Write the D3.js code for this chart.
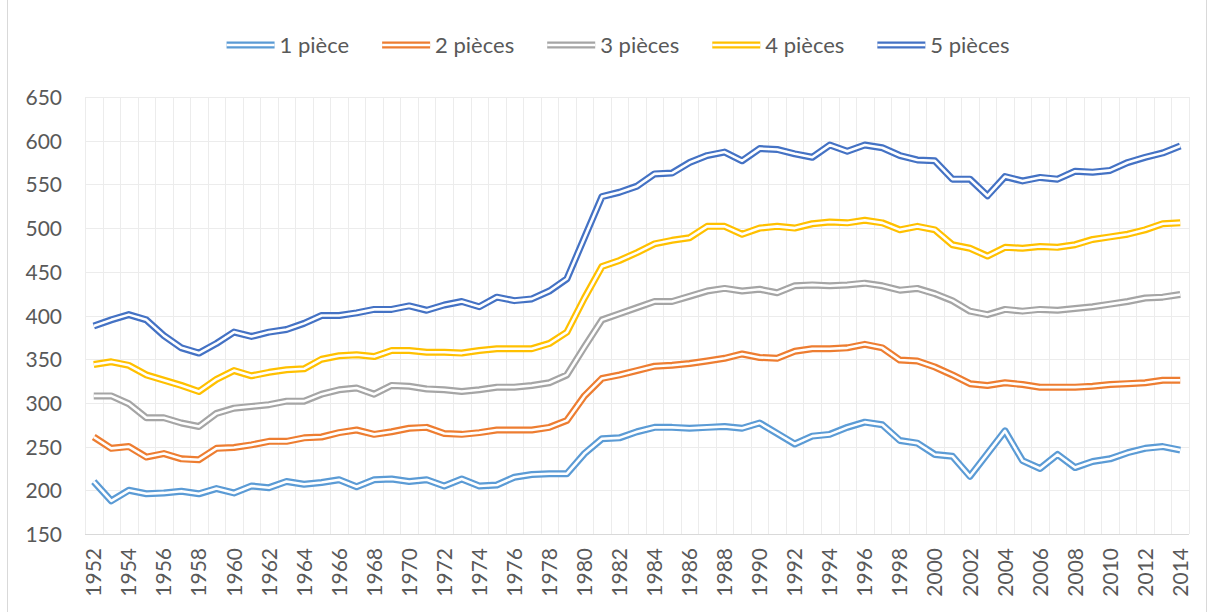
<!DOCTYPE html>
<html>
<head>
<meta charset="utf-8">
<script src="https://cdn.jsdelivr.net/npm/d3@7"></script>
<style>
  html, body { margin: 0; padding: 0; background: #fff; }
  svg { display: block; }
  text { font-family: Lato, "Open Sans", sans-serif; fill: #595959; }
</style>
</head>
<body>
<svg id="chart" width="1214" height="612"></svg>
<script>
// Years on the category axis
const years = d3.range(1952, 2015);
const yTicks = [150, 200, 250, 300, 350, 400, 450, 500, 550, 600, 650];

// Series names and colours
const seriesNames = ["1 pièce", "2 pièces", "3 pièces", "4 pièces", "5 pièces"];
const seriesColors = ["#5B9BD5", "#ED7D31", "#A5A5A5", "#FFC000", "#4472C4"];

// Values per year, 1952–2014
const piece1 = [210, 188, 200, 196, 197, 199, 196, 202, 197, 205,
                203, 210, 207, 209, 212, 204, 212, 213, 210, 212,
                205, 213, 205, 206, 215, 218, 219, 219, 242, 259,
                260, 267, 272, 272, 271, 272, 273, 271, 277, 265,
                253, 262, 264, 272, 278, 275, 257, 254, 241, 239,
                216, 242, 268, 234, 225, 241, 226, 233, 236, 243,
                248, 250, 246];
const pieces2 = [261, 248, 250, 238, 242, 236, 235, 248, 249, 252,
                 256, 256, 260, 261, 266, 269, 264, 267, 271, 272,
                 265, 264, 266, 269, 269, 269, 272, 280, 308, 328,
                 332, 337, 342, 343, 345, 348, 351, 356, 352, 351,
                 359, 362, 362, 363, 367, 363, 349, 348, 341, 332,
                 322, 320, 323, 321, 318, 318, 318, 319, 321, 322,
                 323, 326, 326];
const pieces3 = [308, 308, 299, 283, 283, 277, 273, 288, 294, 296,
                 298, 302, 302, 310, 315, 317, 310, 320, 319, 316,
                 315, 313, 315, 318, 318, 320, 323, 332, 364, 395,
                 402, 409, 416, 416, 422, 428, 431, 428, 430, 426,
                 434, 435, 434, 435, 437, 434, 429, 431, 425, 417,
                 405, 401, 407, 405, 407, 406, 408, 410, 413, 416,
                 420, 421, 424];
const pieces4 = [344, 347, 343, 332, 326, 320, 313, 327, 337, 331,
                 335, 338, 339, 350, 354, 355, 353, 360, 360, 358,
                 358, 357, 360, 362, 362, 362, 368, 381, 420, 456,
                 463, 472, 482, 486, 489, 502, 502, 493, 500, 502,
                 500, 505, 507, 506, 509, 506, 498, 502, 498, 481,
                 477, 468, 478, 477, 479, 478, 481, 487, 490, 493,
                 498, 505, 506];
const pieces5 = [388, 395, 401, 395, 377, 363, 357, 368, 381, 376,
                 381, 384, 391, 400, 400, 403, 407, 407, 411, 406,
                 412, 416, 410, 421, 417, 419, 428, 442, 489, 536,
                 541, 548, 562, 563, 575, 583, 587, 577, 591, 590,
                 585, 581, 595, 588, 595, 592, 583, 578, 577, 556,
                 556, 537, 559, 554, 558, 556, 565, 564, 566, 575,
                 581, 586, 594];

const seriesValues = [piece1, pieces2, pieces3, pieces4, pieces5];

const svg = d3.select("#chart");
const plot = { left: 85, right: 1189, top: 97, bottom: 534 };

// Outer chart frame
svg.append("rect")
  .attr("x", 7.5).attr("y", -10)
  .attr("width", 1199).attr("height", 640)
  .attr("fill", "#fff").attr("stroke", "#d9d9d9").attr("stroke-width", 1);

const x = d3.scaleBand().domain(years).range([plot.left, plot.right]).padding(0);
const y = d3.scaleLinear().domain([150, 650]).range([plot.bottom, plot.top]);
const cx = yr => x(yr) + x.bandwidth() / 2;

// Vertical gridlines at category boundaries
const vBounds = years.map(yr => x(yr)).concat([plot.right]);
svg.append("g").selectAll("line").data(vBounds).join("line")
  .attr("x1", d => Math.round(d) + 0.5).attr("x2", d => Math.round(d) + 0.5)
  .attr("y1", plot.top).attr("y2", plot.bottom)
  .attr("stroke", "#ececec").attr("stroke-width", 1);

// Horizontal gridlines
svg.append("g").selectAll("line").data(yTicks.filter(t => t > 150)).join("line")
  .attr("x1", plot.left).attr("x2", plot.right)
  .attr("y1", d => Math.round(y(d)) + 0.5).attr("y2", d => Math.round(y(d)) + 0.5)
  .attr("stroke", "#ececec").attr("stroke-width", 1);

// Category axis line
svg.append("line")
  .attr("x1", plot.left).attr("x2", plot.right)
  .attr("y1", Math.round(y(150)) + 0.5).attr("y2", Math.round(y(150)) + 0.5)
  .attr("stroke", "#d9d9d9").attr("stroke-width", 1);

// Value axis labels
const yAxis = d3.axisLeft(y).tickValues(yTicks).tickSize(0).tickPadding(0);
const yAxisG = svg.append("g").attr("transform", "translate(62,0)").call(yAxis);
yAxisG.select(".domain").remove();
yAxisG.selectAll("text")
  .attr("font-size", 21).attr("fill", "#595959")
  .style("font-family", "Lato, 'Open Sans', sans-serif")
  .attr("dy", "0.36em");

// Year labels, every second year, rotated
const xAxis = d3.axisBottom(x).tickValues(years.filter(yr => (yr - 1952) % 2 === 0))
  .tickSize(0).tickPadding(0);
const xAxisG = svg.append("g").attr("transform", `translate(0,${plot.bottom})`).call(xAxis);
xAxisG.select(".domain").remove();
xAxisG.selectAll("text")
  .attr("font-size", 21).attr("fill", "#595959")
  .style("font-family", "Lato, 'Open Sans', sans-serif")
  .attr("text-anchor", "end")
  .attr("transform", "translate(0,14) rotate(-90)")
  .attr("x", 0).attr("y", 0).attr("dy", "0.36em");

// Double-stroke lines
const line = d3.line()
  .x((d, i) => cx(years[i]))
  .y(d => y(d));

const linesG = svg.append("g");
seriesValues.forEach((vals, k) => {
  const g = linesG.append("g");
  g.append("path").datum(vals).attr("d", line)
    .attr("fill", "none").attr("stroke", seriesColors[k])
    .attr("stroke-width", 7).attr("stroke-linejoin", "round");
  g.append("path").datum(vals).attr("d", line)
    .attr("fill", "none").attr("stroke", "#fff")
    .attr("stroke-width", 2.6).attr("stroke-linejoin", "round");
});

// Legend
const legend = svg.append("g");
const items = seriesNames.map((name, k) => {
  const g = legend.append("g");
  g.append("line").attr("x1", 0).attr("x2", 48).attr("y1", 0).attr("y2", 0)
    .attr("stroke", seriesColors[k]).attr("stroke-width", 7);
  g.append("line").attr("x1", 0).attr("x2", 48).attr("y1", 0).attr("y2", 0)
    .attr("stroke", "#fff").attr("stroke-width", 2.6);
  const t = g.append("text").attr("x", 53).attr("y", 0).attr("dy", "0.36em")
    .attr("font-size", 22).text(name);
  return { g, w: 53 + t.node().getComputedTextLength() };
});
const gap = 33;
const total = d3.sum(items, d => d.w) + gap * (items.length - 1);
let pos = 618 - total / 2;
items.forEach(it => {
  it.g.attr("transform", `translate(${pos},45)`);
  pos += it.w + gap;
});
</script>
</body>
</html>
